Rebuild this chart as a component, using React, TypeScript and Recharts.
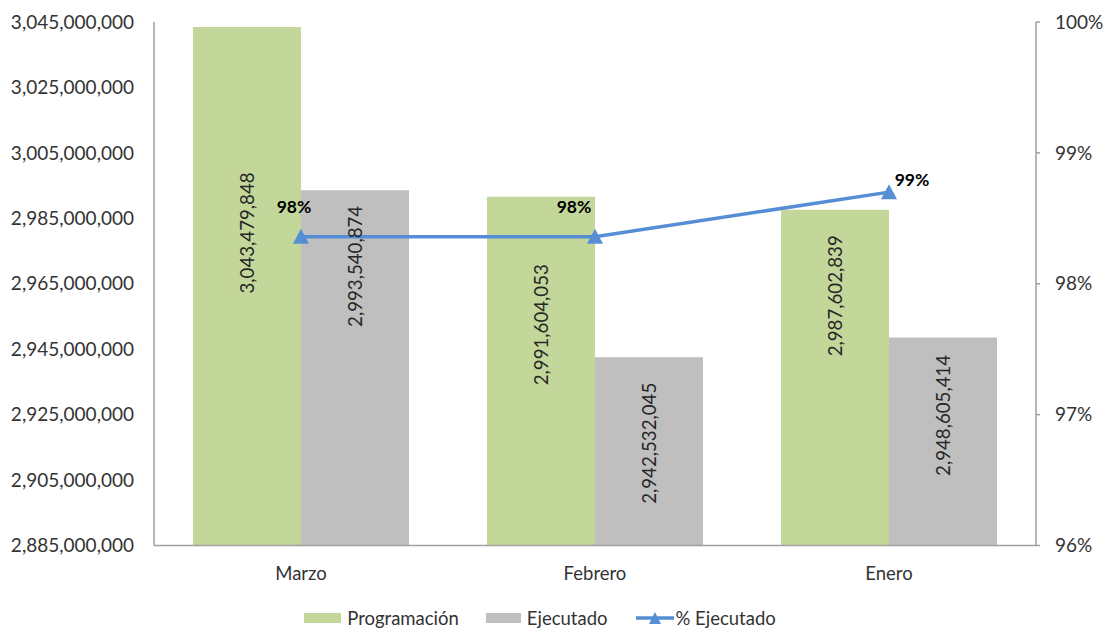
import React from 'react';
import { ComposedChart, Bar, Line, XAxis, YAxis, Legend, LabelList } from 'recharts';

const categories = ['Marzo', 'Febrero', 'Enero'];
const programacion = [3043479848, 2991604053, 2987602839];
const ejecutado = [2993540874, 2942532045, 2948605414];
const pctEjecutado = [0.9836, 0.9836, 0.987];
const pctLabels = ['98%', '98%', '99%'];
const leftTicks = [
  2885000000, 2905000000, 2925000000, 2945000000, 2965000000,
  2985000000, 3005000000, 3025000000, 3045000000,
];
const rightTicks = [0.96, 0.97, 0.98, 0.99, 1.0];

const data = categories.map((name, i) => ({
  name,
  prog: programacion[i],
  ejec: ejecutado[i],
  pct: pctEjecutado[i],
}));

const GREEN = '#C4D79B';
const GRAY = '#BFBFBF';
const BLUE = '#558ED5';
const AXIS = '#A0A0A0';
const FONT = 'Lato, "Open Sans", sans-serif';

// label placement styling (offset of the label centre from the bar top, px)
const greenLabelOffset = [206, 128, 86];
const grayLabelOffset = [76, 86, 78];
// percent label offsets relative to the point
const pctLabelDx = [-7, -21, 23];
const pctLabelDy = [-30, -30, -13];

const fmt = (v: number) => v.toLocaleString('en-US');

const makeBarLabel = (offsets: number[]) => (props: any) => {
  const { x, y, width, value, index } = props;
  const cx = Number(x) + Number(width) / 2;
  const cy = Number(y) + offsets[index];
  return (
    <text
      x={cx}
      y={cy}
      transform={`rotate(-90 ${cx} ${cy})`}
      textAnchor="middle"
      dominantBaseline="central"
      fontSize={18.7}
      fill="#262626"
      fontFamily={FONT}
    >
      {fmt(Number(value))}
    </text>
  );
};

const PctLabel = (props: any) => {
  const { x, y, index } = props;
  return (
    <text
      x={Number(x) + pctLabelDx[index]}
      y={Number(y) + pctLabelDy[index]}
      textAnchor="middle"
      dominantBaseline="central"
      fontSize={17.5}
      fontWeight="bold"
      fill="#000"
      fontFamily={FONT}
    >
      {pctLabels[index]}
    </text>
  );
};

const Triangle = (props: any) => {
  const { cx, cy, index } = props;
  if (cx == null || cy == null) return <g key={`t${index}`} />;
  return (
    <path
      key={`t${index}`}
      d={`M${cx},${cy - 8} L${cx + 8},${cy + 7} L${cx - 8},${cy + 7} Z`}
      fill={BLUE}
    />
  );
};

const LegendContent = () => (
  <div
    style={{
      width: 1106,
      height: 40,
      display: 'flex',
      justifyContent: 'center',
      alignItems: 'center',
      paddingTop: 16,
      boxSizing: 'border-box',
      fontFamily: FONT,
      fontSize: 18.5,
      color: '#333',
      paddingRight: 26,
    }}
  >
    <div style={{ display: 'flex', alignItems: 'center', marginRight: 27 }}>
      <div style={{ width: 37, height: 10, background: GREEN, marginRight: 6 }} />
      <span>Programación</span>
    </div>
    <div style={{ display: 'flex', alignItems: 'center', marginRight: 28 }}>
      <div style={{ width: 35, height: 10, background: GRAY, marginRight: 6 }} />
      <span>Ejecutado</span>
    </div>
    <div style={{ display: 'flex', alignItems: 'center' }}>
      <svg width={38} height={14} style={{ marginRight: 2 }}>
        <line x1={0} y1={7} x2={38} y2={7} stroke={BLUE} strokeWidth={3.5} />
        <path d="M19,1 L25,13 L13,13 Z" fill={BLUE} />
      </svg>
      <span>% Ejecutado</span>
    </div>
  </div>
);

export default function App() {
  return (
    <div style={{ position: 'absolute', left: 0, top: 0, width: 1106, height: 630, background: '#fff', fontFamily: FONT }}>
      <ComposedChart
        width={1106}
        height={630}
        data={data}
        margin={{ top: 22, right: 0, bottom: 0, left: 0 }}
        barCategoryGap={39}
        barGap={0}
      >
        <XAxis
          dataKey="name"
          height={44.5}
          axisLine={{ stroke: AXIS, strokeWidth: 1.5 }}
          tickLine={false}
          tickSize={0}
          tickMargin={21}
          tick={{ fontSize: 18.5, fill: '#333', fontFamily: FONT }}
        />
        <YAxis
          yAxisId="left"
          orientation="left"
          width={154}
          domain={[2885000000, 3045000000]}
          ticks={leftTicks}
          allowDataOverflow
          interval={0}
          axisLine={{ stroke: AXIS, strokeWidth: 1.5 }}
          tickLine={false}
          tickSize={0}
          tickMargin={20}
          tickFormatter={(v: number) => fmt(v)}
          tick={{ fontSize: 19, fill: '#333', fontFamily: FONT }}
        />
        <YAxis
          yAxisId="right"
          orientation="right"
          width={70}
          domain={[0.96, 1.0]}
          ticks={rightTicks}
          allowDataOverflow
          interval={0}
          axisLine={{ stroke: AXIS, strokeWidth: 1.5 }}
          tickLine={{ stroke: AXIS, strokeWidth: 1.5 }}
          tickSize={4}
          tickMargin={15}
          tickFormatter={(v: number) => `${Math.round(v * 100)}%`}
          tick={{ fontSize: 19, fill: '#333', fontFamily: FONT, textAnchor: 'start' }}
        />
        <Bar yAxisId="left" dataKey="prog" name="Programación" fill={GREEN} isAnimationActive={false}>
          <LabelList dataKey="prog" content={makeBarLabel(greenLabelOffset)} />
        </Bar>
        <Bar yAxisId="left" dataKey="ejec" name="Ejecutado" fill={GRAY} isAnimationActive={false}>
          <LabelList dataKey="ejec" content={makeBarLabel(grayLabelOffset)} />
        </Bar>
        <Line
          yAxisId="right"
          dataKey="pct"
          name="% Ejecutado"
          stroke={BLUE}
          strokeWidth={3.5}
          dot={Triangle}
          activeDot={false}
          isAnimationActive={false}
        >
          <LabelList dataKey="pct" content={PctLabel} />
        </Line>
        <Legend verticalAlign="bottom" height={40} content={() => <LegendContent />} />
      </ComposedChart>
    </div>
  );
}
